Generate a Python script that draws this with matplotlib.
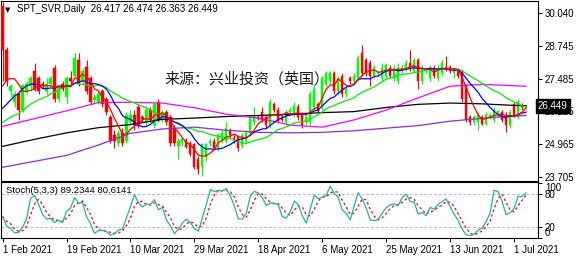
import numpy as np
import pandas as pd
import matplotlib
matplotlib.use("Agg")
import matplotlib.pyplot as plt

# ---------------- data ----------------
opens = [30.3, 28.6, 27.0, 26.6, 26.9, 26.3, 27.0, 27.2, 27.8, 27.5,
         27.3, 27.0, 27.3, 27.9, 26.7, 27.3, 26.8, 27.5, 27.6, 28.2,
         27.4, 27.95, 27.5, 26.65, 26.6, 27.0, 26.7, 26.0, 25.3, 25.0,
         25.4, 25.1, 25.8, 26.1, 26.4, 26.0, 25.8, 26.3, 25.7, 26.6,
         25.9, 26.2, 26.0, 25.6, 24.9, 25.0, 25.1, 25.0, 24.95, 24.4,
         24.1, 24.45, 25.0, 25.1, 24.8, 25.1, 25.1, 25.5, 25.2, 25.25,
         24.9, 25.1, 25.4, 25.8, 26.0, 26.2, 26.0, 25.7, 26.5, 26.3,
         26.0, 25.8, 26.2, 26.1, 26.4, 26.1, 25.8, 25.8, 26.4, 26.5,
         26.4, 27.3, 27.4, 27.7, 27.0, 27.6, 26.9, 27.5, 27.4, 27.5,
         28.5, 28.2, 28.1, 27.6, 27.7, 27.5, 27.6, 27.9, 27.5, 27.4,
         27.8, 27.9, 28.1, 27.8, 28.2, 27.4, 27.8, 27.5, 27.9, 27.5,
         27.7, 27.95, 27.95, 27.7, 27.8, 27.75, 27.2, 26.0, 25.8, 25.8,
         26.0, 25.75, 26.0, 25.9, 26.1, 26.2, 26.1, 25.7, 26.5, 26.0,
         26.45, 26.417]
highs = [30.45, 28.7, 27.3, 27.0, 27.0, 27.3, 27.4, 27.6, 28.1, 27.6,
         27.4, 27.5, 27.6, 28.0, 27.3, 27.4, 27.6, 27.8, 28.5, 28.5,
         27.9, 28.2, 27.6, 26.9, 27.0, 27.1, 26.8, 26.1, 25.5, 25.5,
         25.6, 26.2, 26.3, 26.3, 26.5, 26.1, 26.4, 26.4, 26.6, 26.7,
         26.3, 26.3, 26.1, 25.7, 25.2, 25.2, 25.2, 25.1, 25.0, 24.5,
         25.0, 25.0, 25.2, 25.2, 25.4, 25.5, 25.8, 25.6, 25.3, 25.3,
         25.4, 25.5, 26.1, 26.4, 26.1, 26.4, 26.1, 26.7, 26.6, 26.4,
         26.1, 26.3, 26.4, 26.6, 26.5, 26.2, 26.1, 27.0, 27.3, 26.6,
         27.6, 27.8, 27.8, 27.8, 27.6, 27.7, 27.2, 27.6, 27.7, 28.4,
         28.8, 28.3, 28.2, 28.0, 27.8, 28.1, 28.1, 28.0, 28.0, 28.1,
         28.0, 28.2, 28.6, 28.3, 28.3, 28.0, 27.9, 28.0, 28.0, 28.0,
         28.2, 28.35, 28.0, 27.9, 27.9, 27.85, 27.3, 26.1, 26.1, 26.2,
         26.1, 26.2, 26.15, 26.4, 26.3, 26.3, 26.2, 26.3, 26.6, 26.7,
         26.55, 26.474]
lows = [27.4, 27.2, 26.8, 26.4, 25.9, 26.2, 26.9, 27.0, 27.0, 26.9,
        27.1, 26.9, 27.2, 26.6, 26.6, 27.0, 26.5, 27.3, 27.5, 27.2,
        27.3, 26.9, 26.5, 26.5, 26.5, 26.4, 26.1, 25.0, 24.8, 24.9,
        24.9, 25.0, 25.7, 25.5, 25.6, 25.8, 25.7, 25.8, 25.6, 25.8,
        25.8, 25.7, 24.9, 24.9, 24.4, 24.9, 24.8, 24.5, 24.0, 23.8,
        23.75, 24.3, 24.9, 24.75, 24.7, 25.0, 25.0, 25.2, 25.0, 24.7,
        24.8, 25.0, 25.3, 25.7, 25.9, 25.8, 25.6, 25.6, 26.2, 25.8,
        25.85, 25.7, 26.1, 26.0, 25.9, 25.6, 25.7, 25.7, 26.3, 26.2,
        26.3, 27.2, 27.3, 26.9, 26.9, 26.8, 26.8, 27.3, 27.3, 27.4,
        27.6, 27.6, 27.2, 27.5, 27.6, 27.4, 27.5, 27.5, 27.4, 27.3,
        27.7, 27.8, 27.8, 27.7, 27.1, 27.3, 27.7, 27.4, 27.5, 27.4,
        27.6, 27.8, 27.7, 27.5, 27.5, 26.6, 25.8, 25.7, 25.7, 25.5,
        25.7, 25.7, 25.95, 25.8, 26.0, 25.8, 25.45, 25.6, 26.0, 25.95,
        26.3, 26.363]
closes = [28.6, 27.4, 27.2, 26.9, 26.3, 27.25, 27.3, 27.5, 27.1, 27.0,
          27.2, 27.3, 27.5, 26.7, 27.2, 27.1, 27.5, 27.4, 28.3, 27.3,
          27.8, 27.0, 26.6, 26.8, 26.9, 26.5, 26.2, 25.1, 25.1, 25.4,
          25.0, 26.1, 26.1, 25.7, 25.7, 25.95, 26.3, 25.9, 26.5, 25.9,
          26.2, 25.8, 25.0, 25.0, 25.1, 25.15, 24.85, 24.6, 24.1, 24.0,
          24.95, 24.95, 25.1, 24.8, 25.3, 25.4, 25.6, 25.3, 25.15, 24.8,
          25.3, 25.4, 26.0, 26.1, 25.95, 25.9, 25.7, 26.6, 26.3, 25.9,
          25.9, 26.2, 26.3, 26.45, 26.0, 25.7, 26.0, 26.9, 27.1, 26.25,
          27.5, 27.7, 27.7, 27.0, 27.5, 26.9, 27.1, 27.4, 27.6, 28.3,
          27.7, 27.7, 27.6, 27.9, 27.75, 27.9, 28.0, 27.6, 27.9, 27.9,
          27.9, 28.1, 27.9, 28.2, 27.4, 27.9, 27.85, 27.9, 27.6, 27.9,
          28.1, 27.85, 27.8, 27.8, 27.6, 26.7, 25.9, 25.8, 26.0, 26.1,
          25.75, 26.1, 26.1, 26.3, 26.25, 25.9, 25.7, 26.2, 26.1, 26.6,
          26.4, 26.449]
# closes of the bars just before the first visible bar (feed the short averages)
prior_closes = [25.3, 25.2, 25.4, 25.1, 24.8, 24.9, 25.0, 25.4, 25.3, 26.1,
                25.9, 25.5, 25.4, 25.3, 25.4, 26.2, 26.9, 27.0, 27.3]

# long moving averages read at every 8th bar
ma_idx = [0, 8, 16, 24, 32, 40, 48, 56, 64, 72, 80, 88, 96, 104, 112, 120, 128, 131]
ma50 = [25.65, 25.95, 26.25, 26.57, 26.58, 26.55, 26.37, 26.12, 25.97, 25.7,
        25.62, 25.9, 26.28, 26.75, 27.2, 27.27, 27.22, 27.2]
ma100 = [24.88, 25.15, 25.4, 25.6, 25.72, 25.92, 25.97, 26.03, 26.07, 26.12,
         26.18, 26.22, 26.38, 26.5, 26.55, 26.52, 26.46, 26.45]
ma200 = [24.07, 24.3, 24.53, 24.93, 25.38, 25.55, 25.62, 25.5, 25.42, 25.4,
         25.42, 25.48, 25.58, 25.68, 25.85, 25.96, 26.05, 26.07]

date_labels = ["1 Feb 2021", "19 Feb 2021", "10 Mar 2021", "29 Mar 2021",
               "18 Apr 2021", "6 May 2021", "25 May 2021", "13 Jun 2021",
               "1 Jul 2021"]
price_ticks = [30.040, 28.745, 27.485, 26.225, 24.965, 23.705]
stoch_ticks = [0, 20, 80, 100]
last_price = "26.449"
title_text = "SPT_SVR,Daily  26.417 26.474 26.363 26.449"
stoch_text = "Stoch(5,3,3) 89.2344 80.6141"
watermark = "来源：兴业投资（英国）"

# ---------------- derived ----------------
o = np.array(opens); h = np.array(highs); l = np.array(lows); c = np.array(closes)
n = len(c)
xs = np.arange(n)
npre = len(prior_closes)
allc = pd.Series(prior_closes + closes)
ma5 = allc.rolling(5).mean().values[npre:]
ma10 = allc.rolling(10).mean().values[npre:]
ma20 = allc.rolling(20).mean().values[npre:]

hh = pd.Series(h).rolling(5, min_periods=1).max()
ll = pd.Series(l).rolling(5, min_periods=1).min()
cs = pd.Series(c)
num = (cs - ll).rolling(3, min_periods=1).sum()
den = (hh - ll).rolling(3, min_periods=1).sum()
stk = 100 * num / den
std = stk.rolling(3, min_periods=1).mean()

# ---------------- figure ----------------
plt.rcParams['font.family'] = ['Liberation Sans', 'DejaVu Sans']
W, H = 583, 260
fig = plt.figure(figsize=(W / 100, H / 100), dpi=100)
fig.patch.set_facecolor("white")


def fx(px):
    return px / W


def fy(py):
    return 1 - py / H


ax = fig.add_axes([fx(1), fy(180.5), fx(538) - fx(1), fy(1) - fy(180.5)])
ax2 = fig.add_axes([fx(1), fy(238.3), fx(538) - fx(1), fy(182) - fy(238.3)])

up = c >= o
bull = "#00FF00"
bear = "#FF0000"
cols = np.where(up, bull, bear)

ax.vlines(xs, l, h, colors=cols, linewidth=0.8, zorder=2)
body_h = np.maximum(np.abs(c - o), 0.02)
ax.bar(xs, body_h, bottom=np.minimum(o, c), width=0.55, color=cols,
       edgecolor=cols, linewidth=0.3, zorder=3)

ax.plot(ma_idx, ma200, color="#8A2BE2", lw=0.9, zorder=4)
ax.plot(ma_idx, ma100, color="#000000", lw=0.9, zorder=4)
ax.plot(ma_idx, ma50, color="#FF00FF", lw=0.9, zorder=4)
ax.plot(xs, ma20, color="#00EE00", lw=0.9, zorder=4)
ax.plot(xs, ma10, color="#0000FF", lw=0.9, zorder=4)
ax.plot(xs, ma5, color="#FF0000", lw=0.9, zorder=4)

ax.set_xlim(-0.4, 134)
ax.set_ylim(23.56, 30.49)
ax.set_xticks([])
ax.yaxis.tick_right()
ax.set_yticks(price_ticks)
ax.set_yticklabels([f"{v:.3f}" for v in price_ticks])
ax.tick_params(axis="y", length=3, width=0.7, pad=2, labelsize=7, colors="black")

ax.text(1.0, 26.449, last_price, transform=ax.get_yaxis_transform(),
        ha="left", va="center", fontsize=7, color="white",
        bbox=dict(boxstyle="square,pad=0.2", facecolor="black", edgecolor="black"),
        zorder=10, clip_on=False)

for a in (ax, ax2):
    for s in a.spines.values():
        s.set_linewidth(0.8)
        s.set_color("black")

# stochastic
ax2.axhline(80, color="#BDBDBD", lw=0.7, ls=(0, (3, 2)), zorder=1)
ax2.axhline(20, color="#BDBDBD", lw=0.7, ls=(0, (3, 2)), zorder=1)
ax2.plot(xs, std, color="#FF0000", lw=0.9, ls=(0, (2, 2)), zorder=3)
ax2.plot(xs, stk, color="#20B2AA", lw=0.9, zorder=4)
ax2.set_xlim(-0.4, 134)
ax2.set_ylim(0, 102)
ax2.yaxis.tick_right()
ax2.set_yticks(stoch_ticks)
labs = ax2.set_yticklabels([str(v) for v in stoch_ticks])
labs[0].set_va("bottom")
labs[-1].set_va("top")
ax2.tick_params(axis="y", length=3, width=0.7, pad=2, labelsize=7)

tick_pos = [16 * k for k in range(len(date_labels))]
ax2.set_xticks(tick_pos)
ax2.set_xticklabels(date_labels, ha="left")
ax2.tick_params(axis="x", length=3, width=0.7, pad=2, labelsize=7)

# texts
fig.text(fx(5), fy(10), "▼", fontsize=5, family=["DejaVu Sans"], va="center", ha="left")
fig.text(fx(17), fy(9.5), title_text, fontsize=7, va="center", ha="left")
fig.text(fx(6), fy(190.5), stoch_text, fontsize=6.8, va="center", ha="left")
fig.text(fx(247), fy(79.5), watermark, fontsize=10.8,
         family=["Noto Sans CJK SC", "DejaVu Sans"], color="#1a1a1a",
         ha="center", va="center")

fig.savefig("out.png", dpi=100, facecolor="white")
